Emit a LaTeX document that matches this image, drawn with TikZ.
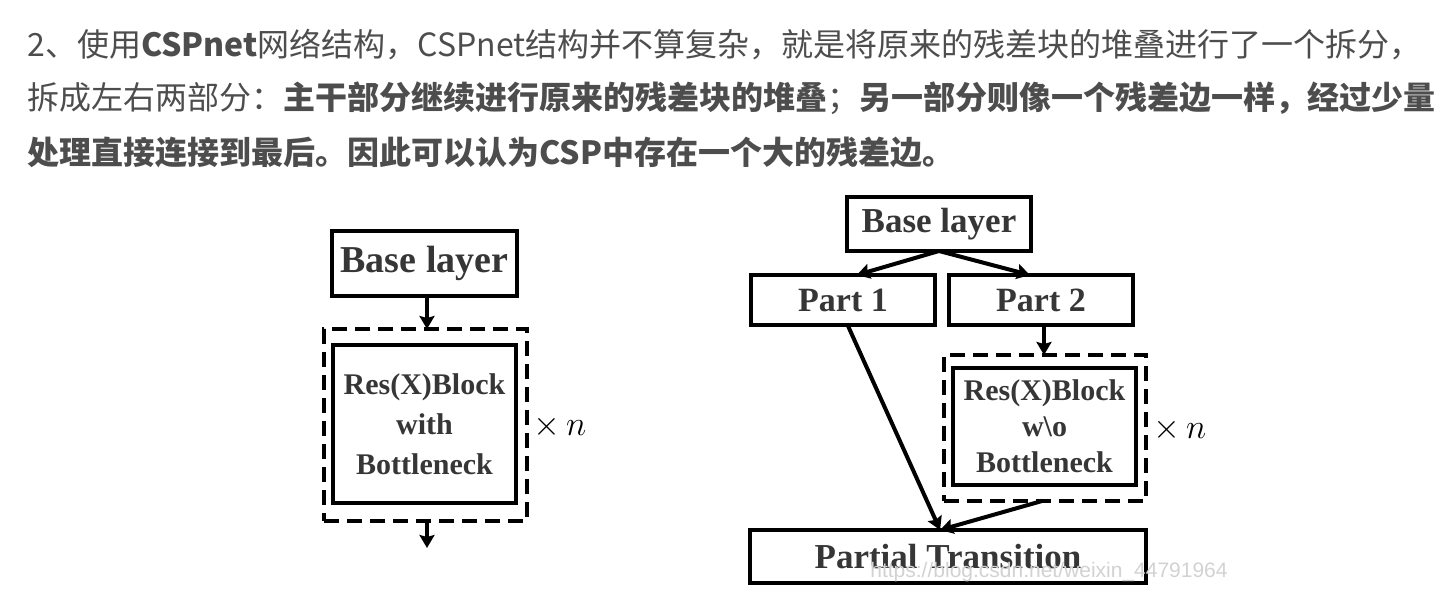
\documentclass[tikz,border=0pt]{standalone}
\usepackage{fontspec}
\setmainfont{Liberation Serif}
\setsansfont{Liberation Sans}
\newfontfamily\cjk{Noto Sans CJK SC}
\usepackage{tikz}
\usetikzlibrary{arrows.meta,positioning,calc}
\definecolor{ink}{HTML}{363636}
\definecolor{bodytext}{HTML}{4D4D4D}
\definecolor{wmgray}{HTML}{D2D2D2}
\tikzset{
    every picture/.style={line join=miter},
    layerbox/.style={draw=black,fill=white,line width=2pt,inner sep=0pt,outer sep=0pt,
      text=ink,font=\bfseries\fontsize{17.5}{20}\selectfont},
    blockbox/.style={draw=black,line width=2pt,inner sep=0pt,outer sep=0pt,
      text=ink,align=center},
    repeatbox/.style={draw=black,line width=2pt,dash pattern=on 7.5pt off 4pt,
      inner sep=0pt,outer sep=0pt},
    flowarrow/.style={-{Stealth[length=6.5pt,width=7.5pt,inset=1pt]},draw=black,
      line width=2pt},
    timesn/.style={inner sep=0pt,font=\fontsize{16}{16}\selectfont},
    para/.style={anchor=west,inner sep=0pt,text=bodytext,
      font=\cjk\fontsize{16}{20}\selectfont},
    watermark/.style={inner sep=0pt,text=wmgray,font=\sffamily\fontsize{10.5}{12}\selectfont}
}
\begin{document}
\begin{tikzpicture}[x=0.5pt,y=-0.5pt]
    \useasboundingbox (0,0) rectangle (1448,605);
    \node[para] (line1) at (27,45) {2、使用{\bfseries CSPnet}网络结构，CSPnet结构并不算复杂，就是将原来的残差块的堆叠进行了一个拆分，};
    \node[para] (line2) at (27,98) {拆成左右两部分：{\bfseries 主干部分继续进行原来的残差块的堆叠}；{\bfseries 另一部分则像一个残差边一样，经过少量}};
    \node[para] (line3) at (27,152) {{\bfseries 处理直接连接到最后。因此可以认为CSP中存在一个大的残差边。}};

    \node[layerbox,minimum width=92.5pt,minimum height=32.5pt,
      font=\bfseries\fontsize{19}{20}\selectfont] (base1) at (424.5,263.5) {Base layer};
    \node[repeatbox,minimum width=101.5pt,minimum height=96pt] (rep1) at (425.5,425) {};
    \node[blockbox,minimum width=91.5pt,minimum height=79pt,
      font=\bfseries\fontsize{15}{20}\selectfont] (block1) at (424.5,424)
      {Res(X)Block\\with\\Bottleneck};
    \node[timesn] (times1) at (560,427) {$\times\,n$};
    \coordinate (out1) at (427,548);
    \draw[flowarrow] (base1.south -| 427,0) -- (rep1.north -| 427,0);
    \draw[flowarrow] (rep1.south -| 427,0) -- (out1);

    \node[layerbox,minimum width=92pt,minimum height=27pt] (base2) at (939,224) {Base layer};
    \node[layerbox,minimum width=92pt,minimum height=25pt,
      font=\bfseries\fontsize{17}{20}\selectfont] (part1) at (843,300) {Part 1};
    \node[layerbox,minimum width=92pt,minimum height=25pt,
      font=\bfseries\fontsize{17}{20}\selectfont] (part2) at (1041,300) {Part 2};
    \node[repeatbox,minimum width=101pt,minimum height=73pt] (rep2) at (1045,428) {};
    \node[blockbox,minimum width=91.5pt,minimum height=58.5pt,
      font=\bfseries\fontsize{15}{18}\selectfont] (block2) at (1044.5,426.5)
      {Res(X)Block\\w\textbackslash o\\Bottleneck};
    \node[timesn] (times2) at (1180,430) {$\times\,n$};
    \node[layerbox,minimum width=198pt,minimum height=26.5pt,text depth=0pt,
      text height=12pt] (trans) at (948,556.5) {Partial Transition};
    \coordinate (merge) at ($(trans.north)!0.04!(trans.north west)$);
    \draw[flowarrow] (base2.south) -- ($(part1.north)!0.15!(part1.north east)$);
    \draw[flowarrow] (base2.south) -- ($(part2.north)!0.12!(part2.north west)$);
    \draw[flowarrow] (part2.south -| 1044,0) -- (rep2.north -| 1044,0);
    \draw[flowarrow] ($(part1.south)!0.05!(part1.south east)$) -- (merge);
    \draw[flowarrow] (rep2.south -| 1042,0) -- (merge);
    \node[watermark] (wm) at (1049,572) {https://blog.csdn.net/weixin\_44791964};
\end{tikzpicture}
\end{document}
